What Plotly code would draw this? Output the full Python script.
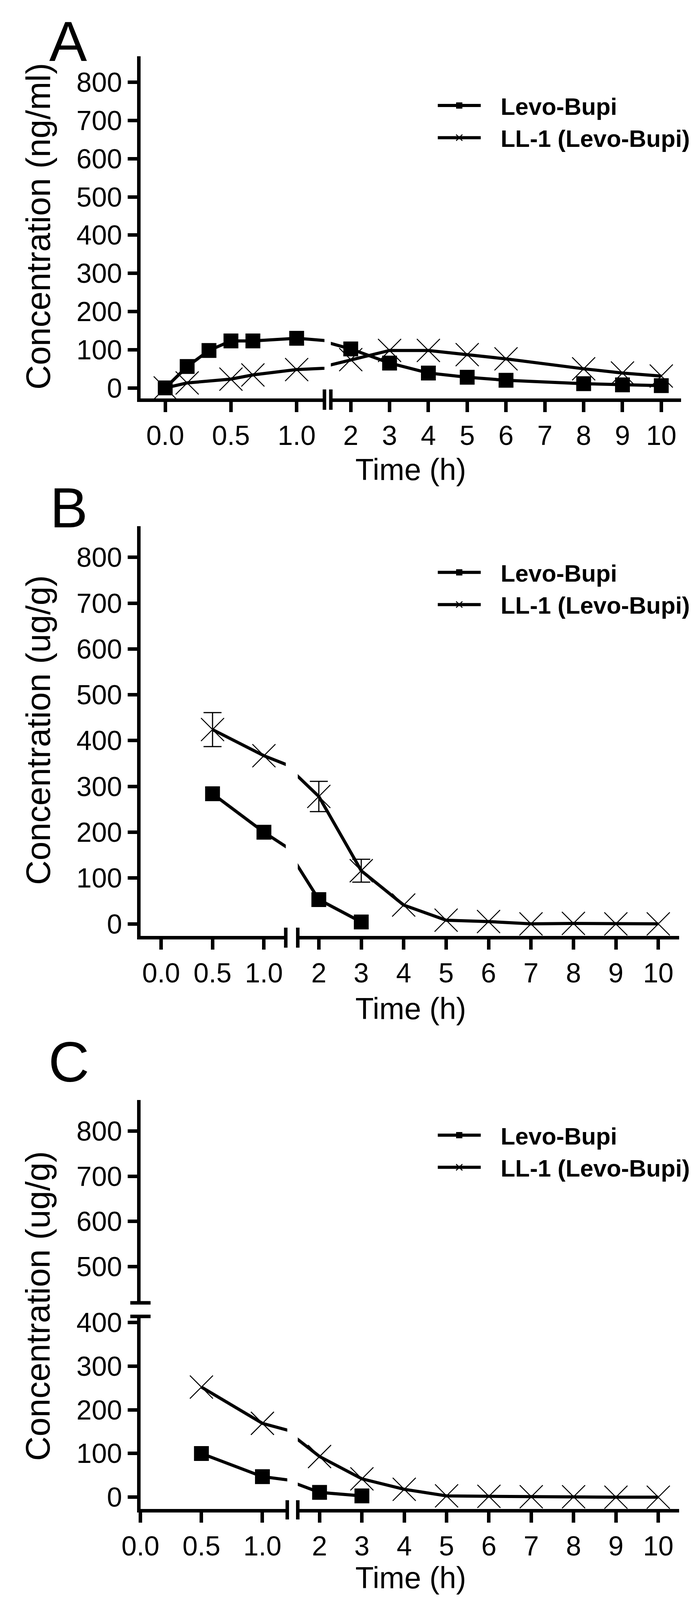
import plotly.graph_objects as go

W, H = 1772, 4203          # reference frame used for measuring positions
VIEW_W, VIEW_H = 1772, 4096  # visible browser viewport
def px(x): return x / W
def py(y): return 1 - y / H

# ---------------- data ----------------
# Panel A (plasma, ng/ml)
time_A_levo = [0, 0.167, 0.333, 0.5, 0.667, 1.0, 2, 3, 4, 5, 6, 8, 9, 10]
levo_A = [0, 56, 98, 123, 123, 130, 102, 65, 39, 28, 20, 11, 8, 6]
time_A_ll1 = [0, 0.167, 0.5, 0.667, 1.0, 2, 3, 4, 5, 6, 8, 9, 10]
ll1_A = [0, 13, 23, 34, 48, 74, 98, 98, 87, 76, 50, 39, 31]

# Panel B (ug/g)
time_B_levo = [0.5, 1.0, 2, 3]
levo_B = [284, 200, 53, 4]
time_B_ll1 = [0.5, 1.0, 2, 3, 4, 5, 6, 7, 8, 9, 10]
ll1_B = [424, 367, 278, 116, 41, 8, 5, 0, 1, 0, 0]
ll1_B_err = [37, 0, 33, 25, 0, 0, 0, 0, 0, 0, 0]

# Panel C (ug/g)
time_C_levo = [0.5, 1.0, 2, 3]
levo_C = [100, 47, 11, 3]
time_C_ll1 = [0.5, 1.0, 2, 3, 4, 5, 6, 7, 8, 9, 10]
ll1_C = [252, 169, 93, 42, 18, 3, 2, 1, 1, 0, 0]

left_ticks = [0, 0.5, 1.0]
left_labels = ["0.0", "0.5", "1.0"]
right_ticks = [2, 3, 4, 5, 6, 7, 8, 9, 10]
right_labels = [str(v) for v in right_ticks]
y_ticks = [0, 100, 200, 300, 400, 500, 600, 700, 800]
y_ticks_C_low = [0, 100, 200, 300, 400]
y_ticks_C_up = [500, 600, 700, 800]
name_levo = "Levo-Bupi"
name_ll1 = "LL-1 (Levo-Bupi)"

FONT = "Liberation Sans, Arial, Helvetica, sans-serif"
LW_AX = 9
GAP = "\u00a0\u00a0\u2009"   # spacing between legend symbol and label

fig = go.Figure()

def add_series(xs, ys, xaxes, yaxes, kind, legend, err=None):
    first = True
    for yax in yaxes:
        for xa in xaxes:
            if kind == "sq":
                marker = dict(symbol="square", size=38, color="black", line=dict(width=0))
                name = name_levo
            else:
                marker = dict(symbol="x-thin", size=59, color="black",
                              line=dict(width=2.5, color="black"))
                name = name_ll1
            fig.add_trace(go.Scatter(
                x=xs, y=ys, xaxis=xa, yaxis=yax, mode="lines+markers",
                line=dict(color="black", width=8), marker=marker,
                name=GAP + name, legend=legend, showlegend=first,
            ))
            first = False
            if err is not None:
                ex = [x for x, e in zip(xs, err) if e > 0]
                ey = [y for y, e in zip(ys, err) if e > 0]
                ee = [e for e in err if e > 0]
                fig.add_trace(go.Scatter(
                    x=ex, y=ey, xaxis=xa, yaxis=yax, mode="markers",
                    marker=dict(size=1, color="rgba(0,0,0,0)"),
                    error_y=dict(type="data", array=ee, visible=True,
                                 color="black", thickness=3, width=23),
                    showlegend=False, hoverinfo="skip",
                ))

# Panel A
add_series(time_A_levo, levo_A, ["x", "x2"], ["y"], "sq", "legend")
add_series(time_A_ll1, ll1_A, ["x", "x2"], ["y"], "x", "legend")
# Panel B
add_series(time_B_levo, levo_B, ["x3", "x4"], ["y2"], "sq", "legend2")
add_series(time_B_ll1, ll1_B, ["x3", "x4"], ["y2"], "x", "legend2", err=ll1_B_err)
# Panel C (broken y axis: lower y3, upper y4)
add_series(time_C_levo, levo_C, ["x5", "x6"], ["y3", "y4"], "sq", "legend3")
add_series(time_C_ll1, ll1_C, ["x5", "x6"], ["y3", "y4"], "x", "legend3")

common = dict(showline=True, linewidth=LW_AX, linecolor="black", ticks="outside",
              tickwidth=LW_AX, tickcolor="black", showgrid=False,
              zeroline=False, fixedrange=True,
              tickfont=dict(family=FONT, size=70, color="black"))

def xax(domain_px, rng, ticks, labels, anchor):
    return dict(common, domain=[px(domain_px[0]), px(domain_px[1])], range=rng,
                tickmode="array", tickvals=ticks, ticktext=labels, anchor=anchor,
                ticklen=26)

def yax(domain_px, rng, ticks, anchor):
    return dict(common, domain=[py(domain_px[1]), py(domain_px[0])], range=rng,
                tickmode="array", tickvals=ticks, ticktext=[str(t) for t in ticks],
                anchor=anchor, ticklen=24)

layout = dict(
    width=VIEW_W, height=VIEW_H, autosize=False,
    margin=dict(l=0, r=0, t=0, b=0),
    paper_bgcolor="white", plot_bgcolor="white",
    # Panel A
    xaxis=xax((323, 813), [-0.1886, 1.2114], left_ticks, left_labels, "y"),
    xaxis2=xax((830, 1763), [1.4867, 10.513], right_ticks, right_labels, "y"),
    yaxis=yax((125, 1032), [-27.7, 868.3], y_ticks, "x"),
    # Panel B
    xaxis3=xax((323, 710), [-0.2015, 1.2125], left_ticks, left_labels, "y2"),
    xaxis4=xax((742, 1757), [1.504, 10.487], right_ticks, right_labels, "y2"),
    yaxis2=yax((1370, 2456), [-26.4, 868.2], y_ticks, "x3"),
    # Panel C
    xaxis5=xax((323, 714), [0.0, 1.2037], left_ticks, left_labels, "y3"),
    xaxis6=xax((742, 1757), [1.4856, 10.488], right_ticks, right_labels, "y3"),
    yaxis3=yax((3464, 3974), [-26.8, 413.8], y_ticks_C_low, "x5"),
    yaxis4=yax((2891, 3428), [419.8, 868.5], y_ticks_C_up, "x5"),
)

leg_common = dict(font=dict(family=FONT, size=61, color="black", weight="bold"),
                  bgcolor="rgba(0,0,0,0)", borderwidth=0, xanchor="left",
                  yanchor="top", itemwidth=110, tracegroupgap=0)
layout["legend"] = dict(leg_common, x=px(1110), y=py(208))
layout["legend2"] = dict(leg_common, x=px(1110), y=py(1445))
layout["legend3"] = dict(leg_common, x=px(1110), y=py(2936))
fig.update_layout(**layout)

ann = []
def text(t, x, y, size, angle=0, yanchor="middle"):
    ann.append(dict(text=t, x=px(x), y=py(y), xref="paper", yref="paper",
                    showarrow=False, xanchor="center", yanchor=yanchor,
                    textangle=angle, font=dict(family=FONT, size=size, color="black")))

text("A", 130, 0, 145, yanchor="top")
text("B", 133, 1322, 145)
text("C", 133, 2790, 145)
text("Concentration (ng/ml)", 50, 576, 87, -90)
text("Concentration (ug/g)", 50, 1911, 87, -90)
text("Concentration (ug/g)", 50, 3437, 87, -90)
text("Time (h)", 1043, 1220, 77)
text("Time (h)", 1043, 2648, 77)
text("Time (h)", 1043, 4203, 77, yanchor="bottom")
fig.update_layout(annotations=ann)

# axis-break marks
shapes = []
def vbreak(xref, xv, y0, y1):
    shapes.append(dict(type="line", xref=xref, x0=xv, x1=xv, yref="paper",
                       y0=py(y0), y1=py(y1), line=dict(color="black", width=LW_AX)))
vbreak("x domain", 1, 1008, 1062)
vbreak("x2 domain", 0, 1008, 1062)
vbreak("x3 domain", 1, 2434, 2487)
vbreak("x4 domain", 0, 2434, 2487)
vbreak("x5 domain", 1, 3951, 4002)
vbreak("x6 domain", 0, 3951, 4002)
for yref, yv in (("y3 domain", 1), ("y4 domain", 0)):
    shapes.append(dict(type="line", yref=yref, y0=yv, y1=yv, xref="paper",
                       x0=px(296), x1=px(350), line=dict(color="black", width=LW_AX)))
fig.update_layout(shapes=shapes)

# remove the default page margin so the figure sits flush in the viewport
js = """
document.documentElement.style.margin='0';
document.body.style.margin='0';
document.body.style.overflow='hidden';
"""
fig.write_html("out.html", config={"displayModeBar": False}, post_script=js)
